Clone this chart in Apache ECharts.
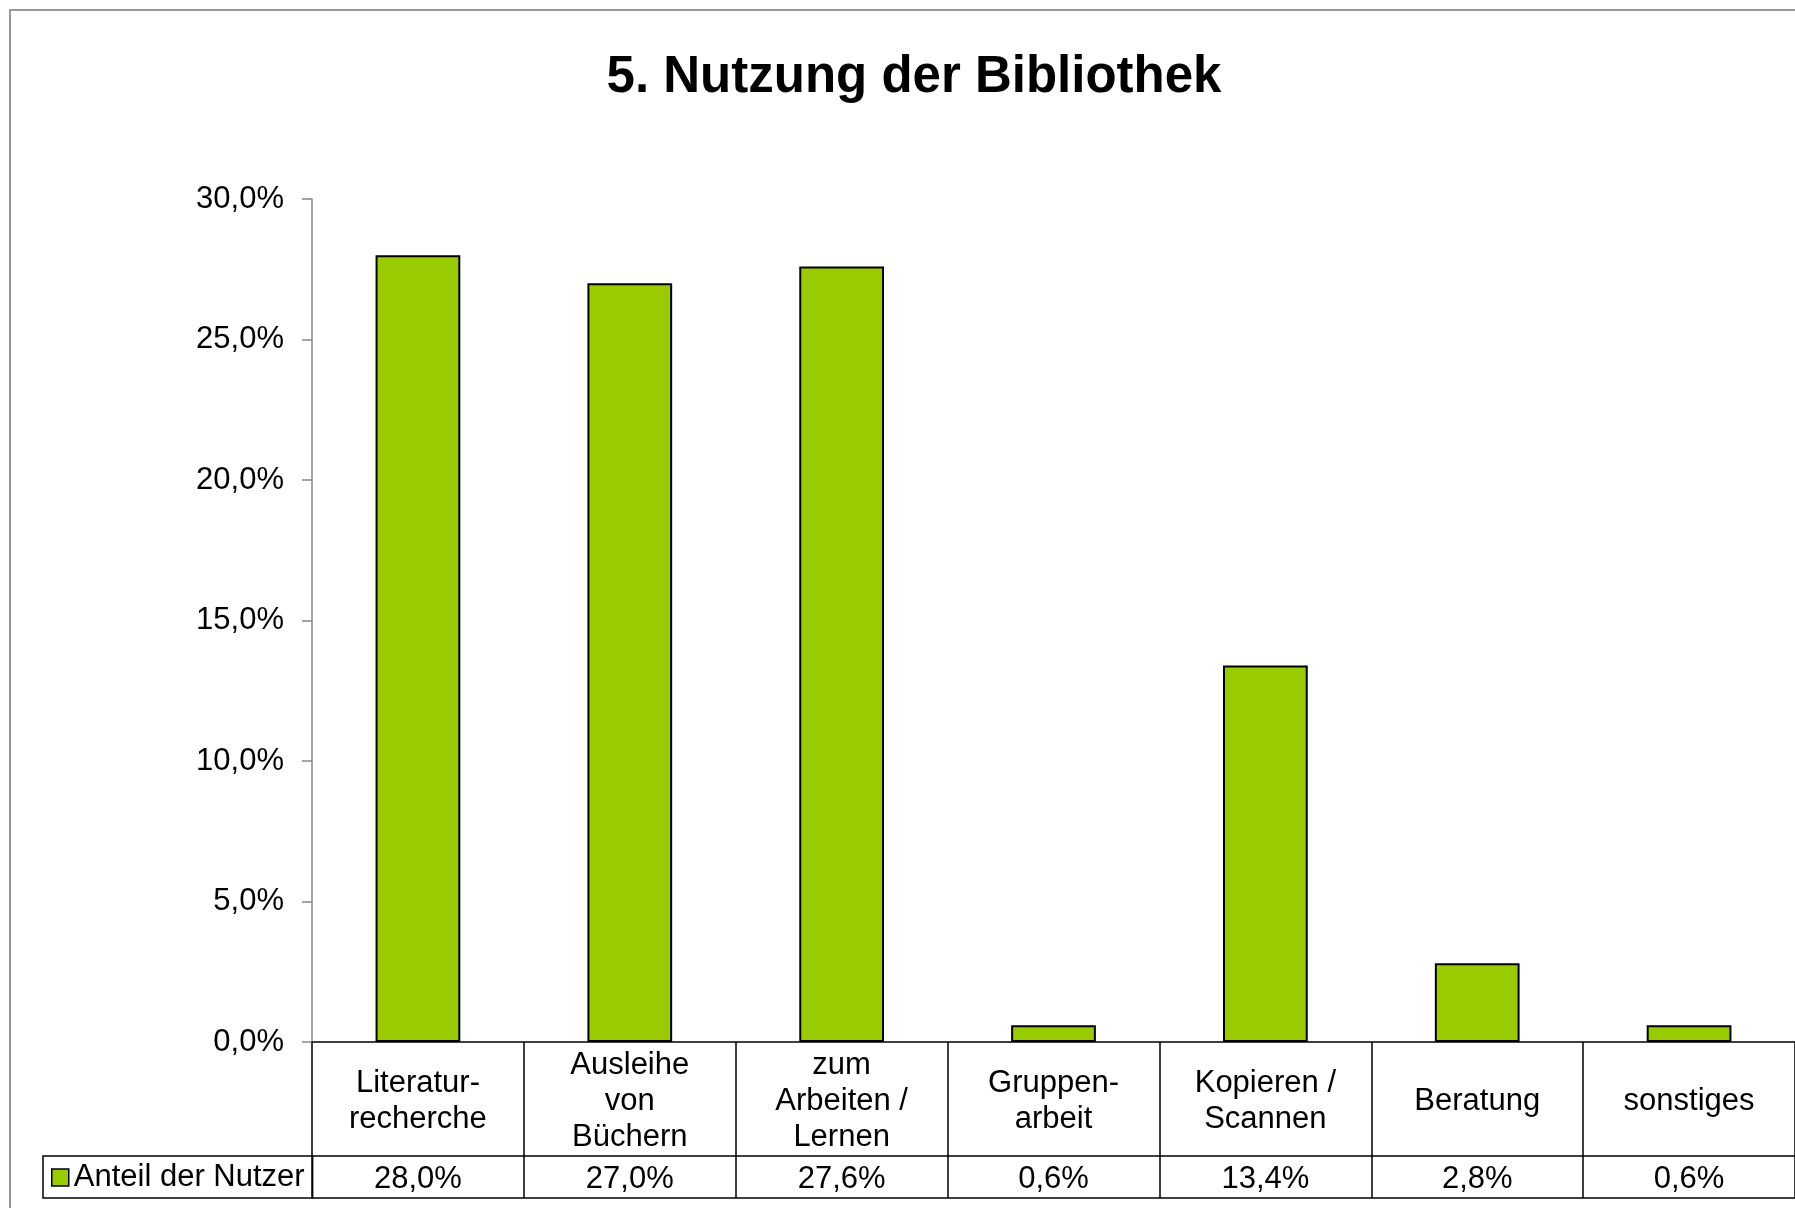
<!DOCTYPE html>
<html>
<head>
<meta charset="utf-8">
<script src="https://cdn.jsdelivr.net/npm/echarts@6/dist/echarts.min.js"></script>
<style>
  html, body { margin: 0; padding: 0; background: #fff; }
  #main { width: 1795px; height: 1208px; }
</style>
</head>
<body>
<div id="main"></div>
<script>
// Daten
const categories = [
  'Literatur-\nrecherche',
  'Ausleihe\nvon\nBüchern',
  'zum\nArbeiten /\nLernen',
  'Gruppen-\narbeit',
  'Kopieren /\nScannen',
  'Beratung',
  'sonstiges'
]
const anteil = [28.0, 27.0, 27.6, 0.6, 13.4, 2.8, 0.6]
const seriesName = 'Anteil der Nutzer'
const yTicks = { min: 0, max: 30, interval: 5 }

const font = 'Liberation Sans, Arial, sans-serif'
const pct = v => v.toFixed(1).replace('.', ',') + '%'

const chart = echarts.init(document.getElementById('main'))

const option = {
  animation: false,
  backgroundColor: '#fff',
  title: {
    text: '5. Nutzung der Bibliothek',
    left: 909,
    top: 47,
    textAlign: 'center',
    textStyle: { fontFamily: font, fontSize: 51, fontWeight: 'bold', color: '#000' }
  },
  legend: {
    data: [seriesName],
    left: 43,
    top: 1156,
    icon: 'rect',
    itemWidth: 17,
    itemHeight: 17,
    padding: [6, 8, 5, 8],
    borderColor: '#000',
    borderWidth: 1.5,
    borderRadius: 0,
    textStyle: { fontFamily: font, fontSize: 31, color: '#000' },
    itemStyle: { borderColor: '#000', borderWidth: 1.5 }
  },
  grid: { left: 312, top: 199, right: 0, bottom: 166 },
  xAxis: [
    {
      type: 'category',
      data: categories,
      axisLine: { lineStyle: { color: '#000', width: 1.5 } },
      axisTick: { show: true, length: 156, lineStyle: { color: '#000', width: 1.5 } },
      axisLabel: {
        interval: 0,
        margin: 59,
        verticalAlign: 'middle',
        fontFamily: font,
        fontSize: 31,
        lineHeight: 36,
        color: '#000'
      }
    },
    {
      type: 'category',
      data: categories,
      position: 'bottom',
      offset: 114,
      axisLine: { show: true, lineStyle: { color: '#000', width: 1.5 } },
      axisTick: { show: false },
      axisLabel: {
        interval: 0,
        margin: 23,
        verticalAlign: 'middle',
        fontFamily: font,
        fontSize: 31,
        color: '#000',
        formatter: (v, i) => pct(anteil[i])
      }
    },
    {
      type: 'category',
      data: categories,
      position: 'bottom',
      offset: 156,
      axisLine: { show: true, lineStyle: { color: '#000', width: 1.5 } },
      axisTick: { show: false },
      axisLabel: { show: false }
    }
  ],
  yAxis: {
    type: 'value',
    min: yTicks.min,
    max: yTicks.max,
    interval: yTicks.interval,
    axisLine: { show: true, lineStyle: { color: '#868686', width: 1.5 } },
    axisTick: { show: true, length: 10, lineStyle: { color: '#868686', width: 1.5 } },
    splitLine: { show: false },
    axisLabel: {
      margin: 28,
      padding: [4, 0, 0, 0],
      fontFamily: font,
      fontSize: 31,
      color: '#000',
      formatter: v => pct(v)
    }
  },
  series: [
    {
      name: seriesName,
      type: 'bar',
      data: anteil,
      barWidth: '40%',
      itemStyle: { color: '#99cc00', borderColor: '#000', borderWidth: 2 }
    }
  ],
  graphic: [
    {
      type: 'rect',
      shape: { x: 10, y: 10, width: 1800, height: 1210 },
      style: { fill: null, stroke: '#777', lineWidth: 1.5 },
      silent: true
    }
  ]
}

chart.setOption(option)
</script>
</body>
</html>
